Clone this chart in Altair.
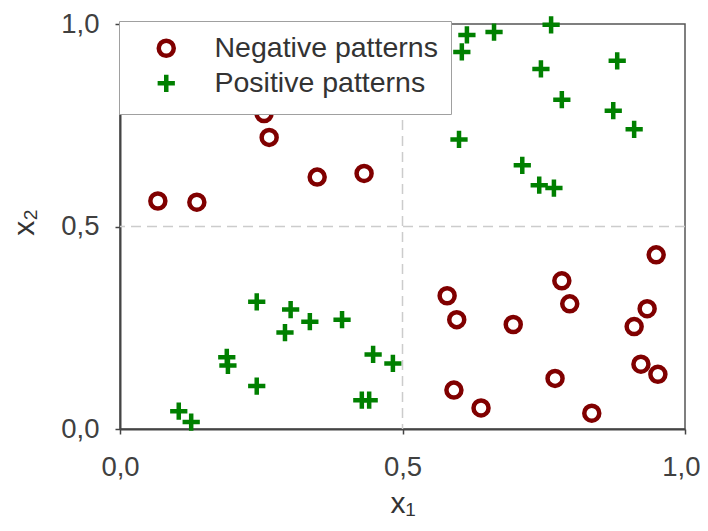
import altair as alt
import pandas as pd

# Negative patterns (circles)
neg_x1 = [0.067, 0.136, 0.264, 0.349, 0.432, 0.255,
          0.949, 0.782, 0.579, 0.796, 0.596, 0.696, 0.933, 0.910,
          0.922, 0.952, 0.770, 0.591, 0.639, 0.835]
neg_x2 = [0.563, 0.560, 0.720, 0.622, 0.631, 0.779,
          0.430, 0.366, 0.329, 0.309, 0.270, 0.258, 0.297, 0.253,
          0.160, 0.135, 0.125, 0.096, 0.052, 0.039]

# Positive patterns (plus signs)
pos_x1 = [0.614, 0.605, 0.662, 0.763, 0.745, 0.880, 0.782, 0.873, 0.910,
          0.600, 0.712, 0.742, 0.768,
          0.242, 0.302, 0.336, 0.292, 0.393, 0.189, 0.191, 0.242,
          0.448, 0.483, 0.428, 0.441, 0.104, 0.126]
pos_x2 = [0.973, 0.931, 0.980, 0.998, 0.889, 0.909, 0.813, 0.786, 0.740,
          0.715, 0.651, 0.602, 0.595,
          0.314, 0.295, 0.265, 0.238, 0.270, 0.177, 0.157, 0.106,
          0.184, 0.162, 0.071, 0.071, 0.044, 0.017]

classes = ["Negative patterns", "Positive patterns"]
grid_vals = [0.5]
tick_vals = [0.0, 0.5, 1.0]

df = pd.DataFrame({
    "x1": neg_x1 + pos_x1,
    "x2": neg_x2 + pos_x2,
    "cls": [classes[0]] * len(neg_x1) + [classes[1]] * len(pos_x1),
})
gdf = pd.DataFrame({"v": grid_vals})

FONT = "Liberation Sans"
label_expr = "replace(format(datum.value, '.1f'), '.', ',')"

xscale = alt.Scale(domain=[0, 1], nice=False)
yscale = alt.Scale(domain=[0, 1], nice=False)

x_axis = alt.Axis(values=tick_vals, labelExpr=label_expr, title="x₁",
                  labelFontSize=27.5, labelFont=FONT, labelColor="#404040",
                  labelBaseline="alphabetic", labelPadding=41,
                  labelAlign={"expr": "datum.value == 1 ? 'right' : 'center'"},
                  labelOffset={"expr": "datum.value == 1 ? 15 : 0"},
                  titleFontSize=30, titleFont=FONT, titleFontWeight="normal",
                  titleColor="#333333", titleBaseline="alphabetic", titleY=83,
                  tickSize=5, grid=False)
y_axis = alt.Axis(values=tick_vals, labelExpr=label_expr, title="x₂",
                  labelFontSize=27.5, labelFont=FONT, labelColor="#404040",
                  labelPadding=16,
                  titleFontSize=30, titleFont=FONT, titleFontWeight="normal",
                  titleColor="#333333", titleAngle=-90, titleBaseline="alphabetic",
                  titleX=-87, titleY=198, titleAlign="center",
                  tickSize=5, grid=False)

leg = alt.Legend(title=None, orient="none", legendX=-1, legendY=-3,
                 fillColor="white", strokeColor="#a0a0a0",
                 padding=13, symbolOffset=20, labelOffset=34,
                 rowPadding=0, labelFontSize=28.5, labelFont=FONT,
                 labelColor="#333333", symbolSize=225,
                 symbolStrokeWidth=4.5, labelLimit=400)

points = alt.Chart(df).mark_point(filled=False, size=225, strokeWidth=4.5, opacity=1).encode(
    x=alt.X("x1:Q", scale=xscale, axis=x_axis),
    y=alt.Y("x2:Q", scale=yscale, axis=y_axis),
    color=alt.Color("cls:N", scale=alt.Scale(domain=classes, range=["#800000", "#008000"]),
                    legend=leg),
    shape=alt.Shape("cls:N", scale=alt.Scale(domain=classes,
                                             range=["circle", "M-1.15,0H1.15M0,-1.15V1.15"]),
                    legend=leg),
)

vrule = alt.Chart(gdf).mark_rule(color="#cccccc", strokeWidth=1.5, strokeDash=[10, 6]).encode(
    x=alt.X("v:Q", scale=xscale, axis=x_axis)
)
hrule = alt.Chart(gdf).mark_rule(color="#cccccc", strokeWidth=1.5, strokeDash=[10, 6]).encode(
    y=alt.Y("v:Q", scale=yscale, axis=y_axis)
)

chart = alt.layer(points, vrule, hrule).properties(
    width=565, height=405,
    autosize=alt.AutoSizeParams(type="none"),
    padding={"left": 112, "top": 16, "right": 15, "bottom": 90},
).configure_view(
    stroke="#555555", strokeWidth=1.5
).configure_axis(
    domainColor="#444444", domainWidth=2, tickColor="#444444", tickWidth=1.5
)

chart.save("out.html", embed_options={"renderer": "svg", "actions": False})
